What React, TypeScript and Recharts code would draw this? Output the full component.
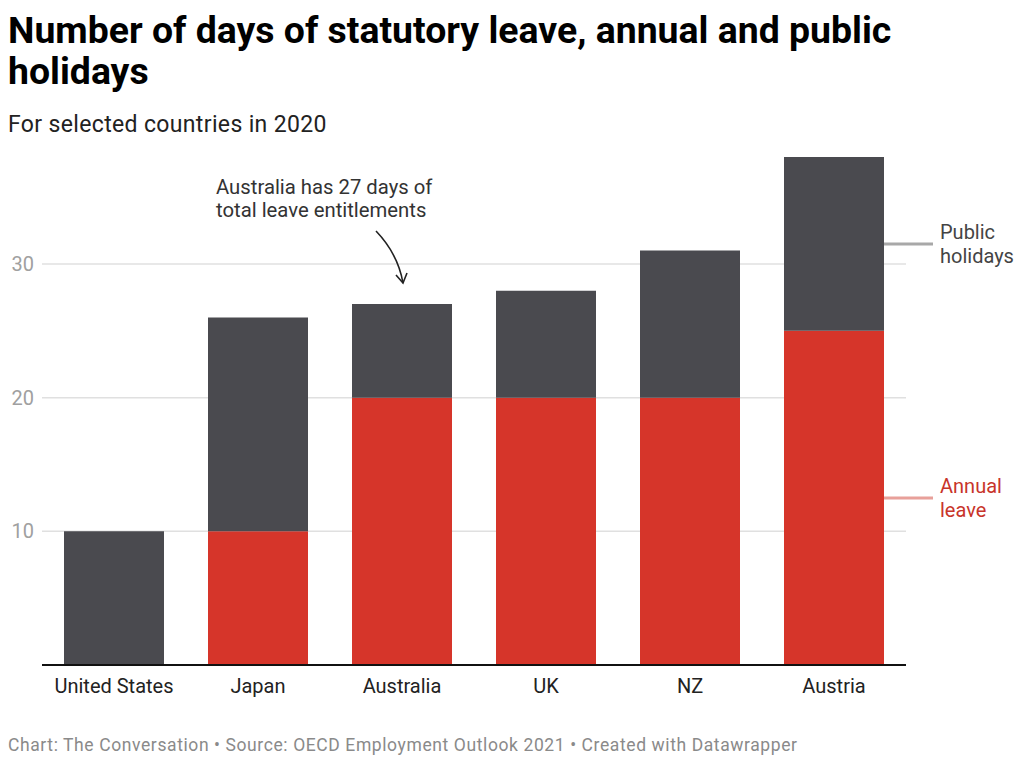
import React from "react";
import { BarChart, Bar, XAxis, YAxis, CartesianGrid, ReferenceDot } from "recharts";

const countries = ["United States", "Japan", "Australia", "UK", "NZ", "Austria"];
const annualLeave = [0, 10, 20, 20, 20, 25];
const publicHolidays = [10, 16, 7, 8, 11, 13];
const yTicks = [10, 20, 30];

const data = countries.map((c, i) => ({
  country: c,
  annual: annualLeave[i],
  public: publicHolidays[i],
}));

const FONT = "Roboto, 'Noto Sans', sans-serif";
const GRAY_BAR = "#4a4a4f";
const RED_BAR = "#d6352a";

const last = data.length - 1;
const austriaAnnualMid = annualLeave[last] / 2;
const austriaPublicMid = annualLeave[last] + publicHolidays[last] / 2;
const ausTotal = annualLeave[2] + publicHolidays[2];

const SideLabel = (props: any) => {
  const { cx, cy, lines, color, lineColor } = props;
  if (cx == null || cy == null) return null;
  return (
    <g>
      <line x1={cx + 50} x2={cx + 99} y1={cy} y2={cy} stroke={lineColor} strokeWidth={3} />
      <text x={cx + 106} y={cy - 5} fill={color} fontSize={20} fontFamily={FONT}>
        {lines[0]}
      </text>
      <text x={cx + 106} y={cy + 19} fill={color} fontSize={20} fontFamily={FONT}>
        {lines[1]}
      </text>
    </g>
  );
};

const Annotation = (props: any) => {
  const { cx, cy } = props;
  if (cx == null || cy == null) return null;
  const tipX = cx + 1;
  const tipY = cy - 21;
  return (
    <g>
      <text x={cx - 186} y={cy - 110} fill="#333" fontSize={20.3} fontFamily={FONT}>
        Australia has 27 days of
      </text>
      <text x={cx - 186} y={cy - 87} fill="#333" fontSize={20.3} fontFamily={FONT}>
        total leave entitlements
      </text>
      <path
        d={`M ${cx - 26} ${cy - 73} Q ${cx - 4} ${cy - 50} ${tipX} ${tipY}`}
        fill="none"
        stroke="#222"
        strokeWidth={1.6}
      />
      <path
        d={`M ${tipX - 7} ${tipY - 8} L ${tipX} ${tipY} L ${tipX + 4} ${tipY - 10}`}
        fill="none"
        stroke="#222"
        strokeWidth={1.6}
      />
    </g>
  );
};

const gridGen = (args: any) => {
  const scale = args?.yAxis?.scale;
  if (typeof scale === "function") return yTicks.map((t) => scale(t));
  if (scale && typeof scale.map === "function") return yTicks.map((t) => scale.map(t));
  return [];
};

export default function App() {
  return (
    <div
      style={{
        position: "absolute",
        left: 0,
        top: 0,
        width: 1024,
        height: 768,
        background: "#fff",
        fontFamily: FONT,
      }}
    >
      <div
        style={{
          position: "absolute",
          left: 8,
          top: 10,
          fontSize: 37.4,
          fontWeight: 700,
          lineHeight: "41px",
          color: "#000",
          width: 1010,
          whiteSpace: "nowrap",
        }}
      >
        Number of days of statutory leave, annual and public
        <br />
        holidays
      </div>
      <div
        style={{
          position: "absolute",
          left: 8,
          top: 111,
          fontSize: 23,
          letterSpacing: 0.35,
          color: "#222",
          whiteSpace: "nowrap",
        }}
      >
        For selected countries in 2020
      </div>
      <div style={{ position: "absolute", left: 0, top: 0 }}>
        <BarChart
          width={1024}
          height={768}
          data={data}
          margin={{ top: 157, right: 118, bottom: 73, left: 0 }}
          barCategoryGap={22}
        >
          <CartesianGrid
            horizontal
            vertical={false}
            stroke="#e0e0e0"
            strokeWidth={1.5}
            horizontalCoordinatesGenerator={gridGen}
          />
          <XAxis
            dataKey="country"
            axisLine={{ stroke: "#111", strokeWidth: 2 }}
            tickLine={false}
            tickMargin={8}
            tick={{ fill: "#222", fontSize: 20, fontFamily: FONT }}
            interval={0}
          />
          <YAxis
            width={42}
            domain={[0, 38]}
            ticks={yTicks}
            axisLine={false}
            tickLine={false}
            tick={{ fill: "#a0a0a0", fontSize: 20, fontFamily: FONT }}
          />
          <Bar dataKey="annual" stackId="a" fill={RED_BAR} isAnimationActive={false} />
          <Bar dataKey="public" stackId="a" fill={GRAY_BAR} isAnimationActive={false} />
          <ReferenceDot
            x={countries[2]}
            y={ausTotal}
            shape={(p: any) => <Annotation {...p} />}
          />
          <ReferenceDot
            x={countries[last]}
            y={austriaPublicMid}
            shape={(p: any) => (
              <SideLabel {...p} lines={["Public", "holidays"]} color="#444" lineColor="#a8a8a8" />
            )}
          />
          <ReferenceDot
            x={countries[last]}
            y={austriaAnnualMid}
            shape={(p: any) => (
              <SideLabel {...p} lines={["Annual", "leave"]} color="#c8342a" lineColor="#e8a09a" />
            )}
          />
        </BarChart>
      </div>
      <div
        style={{
          position: "absolute",
          left: 8,
          top: 735,
          fontSize: 17.5,
          letterSpacing: 0.6,
          color: "#8a8a8a",
          whiteSpace: "nowrap",
        }}
      >
        Chart: The Conversation • Source: OECD Employment Outlook 2021 • Created with Datawrapper
      </div>
    </div>
  );
}
